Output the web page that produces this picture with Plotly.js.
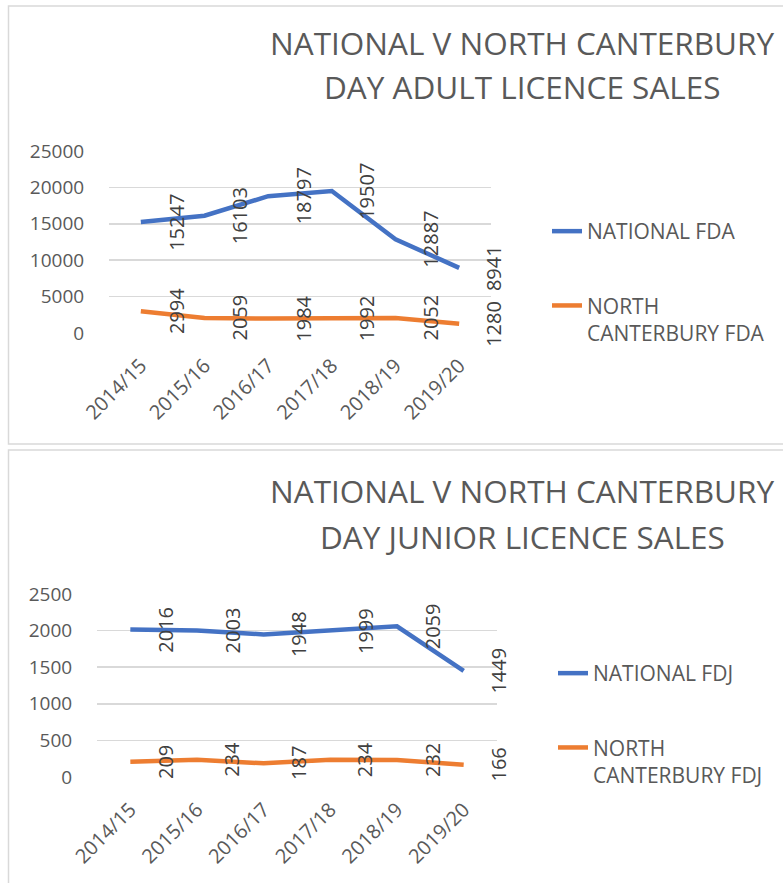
<!DOCTYPE html>
<html>
<head>
<meta charset="utf-8">
<script src="https://cdn.plot.ly/plotly-3.0.1.min.js"></script>
<style>
html,body{margin:0;padding:0;background:#fff;overflow:hidden;}
#chart{width:783px;height:883px;}
</style>
</head>
<body>
<div id="chart"></div>
<script>
// ---- data ----
const seasons = ["2014/15","2015/16","2016/17","2017/18","2018/19","2019/20"];
const nationalFDA = [15247, 16103, 18797, 19507, 12887, 8941];
const northCantFDA = [2994, 2059, 1984, 1992, 2052, 1280];
const nationalFDJ = [2016, 2003, 1948, 1999, 2059, 1449];
const northCantFDJ = [209, 234, 187, 234, 232, 166];
const adultTicks = [0, 5000, 10000, 15000, 20000, 25000];
const juniorTicks = [0, 500, 1000, 1500, 2000, 2500];

const W = 783, H = 883;
const px = v => v / W;
const py = v => 1 - v / H;

const BLUE = "#4472C4", ORANGE = "#ED7D31";
const GRID = "#d9d9d9", TXT = "#595959", LBL = "#404040";
const FONT = "Open Sans";

const traces = [
  {x: seasons, y: nationalFDA, name: "NATIONAL FDA", type: "scatter", mode: "lines",
   line: {color: BLUE, width: 4.5}, xaxis: "x", yaxis: "y", legend: "legend", legendgroup: "a1"},
  {x: seasons, y: northCantFDA, name: "NORTH<br>CANTERBURY FDA", type: "scatter", mode: "lines",
   line: {color: ORANGE, width: 4.5}, xaxis: "x", yaxis: "y", legend: "legend", legendgroup: "a2"},
  {x: seasons, y: nationalFDJ, name: "NATIONAL FDJ", type: "scatter", mode: "lines",
   line: {color: BLUE, width: 4.5}, xaxis: "x2", yaxis: "y2", legend: "legend2", legendgroup: "j1"},
  {x: seasons, y: northCantFDJ, name: "NORTH<br>CANTERBURY FDJ", type: "scatter", mode: "lines",
   line: {color: ORANGE, width: 4.5}, xaxis: "x2", yaxis: "y2", legend: "legend2", legendgroup: "j2"}
];

// data labels
const annotations = [];
function addLabels(vals, xa, ya) {
  vals.forEach((v, i) => {
    annotations.push({x: seasons[i], y: v, xref: xa, yref: ya, text: String(v), showarrow: false,
      textangle: -90, xshift: 35, font: {family: FONT, size: 20, color: LBL}});
  });
}
addLabels(nationalFDA, "x", "y");
addLabels(northCantFDA, "x", "y");
addLabels(nationalFDJ, "x2", "y2");
addLabels(northCantFDJ, "x2", "y2");

// titles
function addTitle(text, cx, cy) {
  annotations.push({x: px(cx), y: py(cy), xref: "paper", yref: "paper", text: text, showarrow: false,
    xanchor: "center", yanchor: "middle", font: {family: FONT, size: 31.5, color: TXT}});
}
addTitle("NATIONAL V NORTH CANTERBURY", 522, 43);
addTitle("DAY ADULT LICENCE SALES", 522, 87);
addTitle("NATIONAL V NORTH CANTERBURY", 522, 491);
addTitle("DAY JUNIOR LICENCE SALES", 522, 536);

function xax(domain, anchor) {
  return {domain: domain, anchor: anchor, type: "category", range: [-0.5, 5.5], tickangle: -45,
    tickfont: {family: FONT, size: 20, color: TXT},
    showgrid: false, showline: false, zeroline: false, ticks: "outside", ticklen: 12,
    tickcolor: "rgba(0,0,0,0)", fixedrange: true};
}
function yax(domain, anchor, ticks) {
  return {domain: domain, anchor: anchor, range: [ticks[0], ticks[ticks.length - 1]], tickvals: ticks,
    ticktext: ticks.map(String), tickfont: {family: FONT, size: 19, color: TXT},
    showgrid: true, gridcolor: GRID, gridwidth: 1.5,
    zeroline: false, showline: false, ticks: "outside", ticklen: 20, tickcolor: "rgba(0,0,0,0)",
    fixedrange: true};
}

const legendBase = {bgcolor: "rgba(0,0,0,0)", borderwidth: 0, font: {family: FONT, size: 21, color: TXT},
  tracegroupgap: 44, valign: "top", xanchor: "left", yanchor: "top"};

const layout = {
  width: W, height: H,
  margin: {l: 0, r: 0, t: 0, b: 0},
  paper_bgcolor: "#fff", plot_bgcolor: "#fff",
  showlegend: true,
  xaxis: xax([px(109), px(491)], "y"),
  yaxis: yax([py(333), py(151)], "x", adultTicks),
  xaxis2: xax([px(97), px(497)], "y2"),
  yaxis2: yax([py(777), py(594)], "x2", juniorTicks),
  legend: Object.assign({}, legendBase, {x: px(547), y: py(211)}),
  legend2: Object.assign({}, legendBase, {x: px(553), y: py(653)}),
  annotations: annotations,
  shapes: [
    {type: "rect", xref: "paper", yref: "paper", x0: px(8.5), x1: 1.05, y0: py(444), y1: py(6),
     line: {color: GRID, width: 1.5}},
    {type: "rect", xref: "paper", yref: "paper", x0: px(8.5), x1: 1.05, y0: -0.05, y1: py(450),
     line: {color: GRID, width: 1.5}}
  ]
};

Plotly.newPlot("chart", traces, layout, {displayModeBar: false, staticPlot: true});
</script>
</body>
</html>
